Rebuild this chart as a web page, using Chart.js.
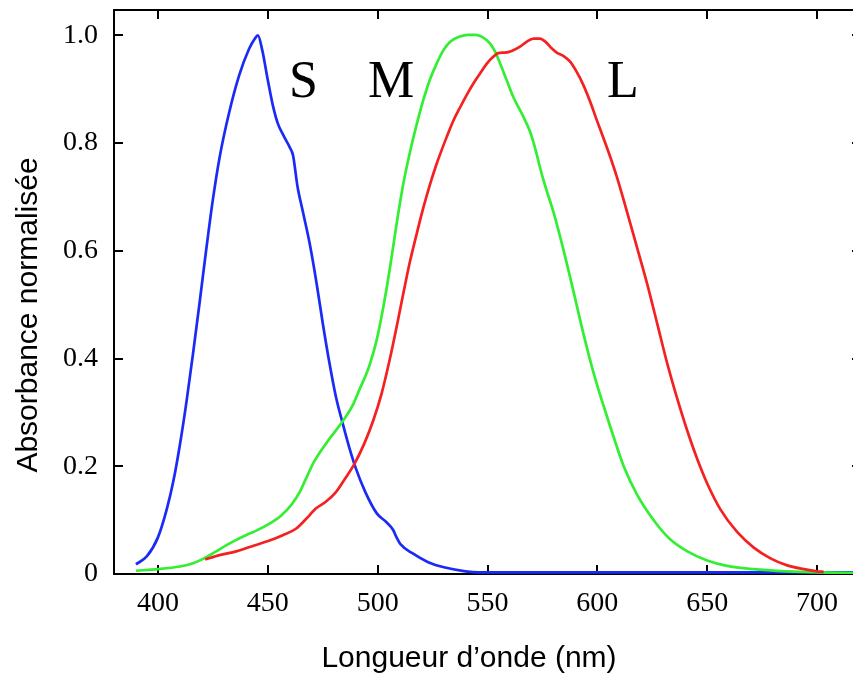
<!DOCTYPE html>
<html>
<head>
<meta charset="utf-8">
<script src="https://cdn.jsdelivr.net/npm/chart.js@4.4.1/dist/chart.umd.min.js"></script>
<style>
html,body{margin:0;padding:0;overflow:hidden;background:#ffffff;}
canvas{display:block;}
</style>
</head>
<body>
<canvas id="c" width="862" height="674"></canvas>
<script>
// ---- Data ----
const sWavelengths = [390,395,400,404,407,410,413,416,419,422,425,428,432.5,437,441.5,444,445.5,447.5,450,452.3,454.5,457,460,461.5,463.5,466,469,472,475,478,481,484,487,490,494.4,499.7,503.8,507,508.5,510.5,515.6,523,530.7,540,546,600,650,720];
const sAbsorbance  = [0.018,0.033,0.068,0.12,0.172,0.24,0.32,0.41,0.505,0.603,0.695,0.772,0.858,0.926,0.975,0.993,1.0,0.972,0.917,0.870,0.837,0.815,0.792,0.777,0.72,0.672,0.615,0.545,0.466,0.393,0.329,0.281,0.236,0.197,0.152,0.112,0.097,0.082,0.069,0.055,0.039,0.022,0.012,0.005,0.003,0.003,0.003,0.003];

const mWavelengths = [390,400,410,416,421,426.5,431,435,440,445,451,456,461,464.5,467.5,471,477,484,488.5,492,494.5,496.5,499.6,502.6,505.6,508.7,511.7,514.7,517.8,520.8,523.8,526.9,529.9,533,537.5,541,544.5,547.5,551.1,553.4,555.7,558.7,561.7,566.3,569.3,570.8,572.3,573.8,576,580.3,584.8,589.4,593.9,598.5,603,607.6,612,618,626,633,641,650,659,671,686,701,720];
const mAbsorbance  = [0.006,0.009,0.014,0.02,0.029,0.042,0.053,0.062,0.072,0.081,0.094,0.108,0.13,0.152,0.178,0.208,0.245,0.283,0.312,0.345,0.368,0.39,0.435,0.496,0.568,0.652,0.725,0.783,0.835,0.88,0.918,0.948,0.972,0.988,0.998,1.001,1.001,0.997,0.985,0.970,0.948,0.917,0.886,0.849,0.822,0.803,0.781,0.756,0.724,0.668,0.598,0.520,0.442,0.37,0.31,0.252,0.2,0.148,0.098,0.065,0.042,0.025,0.015,0.009,0.005,0.003,0.002];

const lWavelengths = [421.5,428,435.6,443.2,450.8,456.8,462.8,467.4,472,476.4,481,485,489.5,494,498,501.8,505.6,508.7,511.7,514.7,517.8,520.8,523.8,526.9,528.4,531.4,534.4,537.5,540.5,543.5,546.6,549.6,552.6,554.9,558,561,564.8,567.8,570.9,573.9,576.9,579.2,581.5,584.5,587.6,590.6,593.6,596.7,599.7,602.8,605.8,608.8,613.6,618.2,622.7,627.3,631.8,636.4,641,645.5,650,656,663.6,671.2,678.8,686.4,694,700,703];
const lAbsorbance  = [0.027,0.035,0.042,0.052,0.062,0.072,0.084,0.102,0.122,0.134,0.152,0.176,0.205,0.243,0.285,0.335,0.40,0.46,0.521,0.58,0.632,0.68,0.723,0.762,0.779,0.811,0.841,0.866,0.889,0.91,0.929,0.947,0.960,0.967,0.968,0.971,0.979,0.988,0.994,0.994,0.986,0.976,0.968,0.962,0.951,0.932,0.908,0.877,0.843,0.809,0.775,0.738,0.671,0.604,0.538,0.464,0.391,0.325,0.265,0.213,0.168,0.12,0.078,0.049,0.029,0.016,0.009,0.005,0.004];

const xTickValues = [400,450,500,550,600,650,700];
const yTickValues = [0,0.2,0.4,0.6,0.8,1.0];
const yTickLabels = ['0','0.2','0.4','0.6','0.8','1.0'];
const coneNames = ['S','M','L'];
const xAxisTitle = 'Longueur d\u2019onde (nm)';
const yAxisTitle = 'Absorbance normalis\u00e9e';

// ---- Build ----
const toPoints = (xs, ys) => xs.map((x, i) => ({x: x, y: ys[i]}));

const framePlugin = {
  id: 'frame',
  beforeDatasetsDraw(chart) {
    const {ctx, chartArea: a, scales: {x, y}} = chart;
    ctx.save();
    ctx.strokeStyle = '#000';
    ctx.lineWidth = 2;
    ctx.strokeRect(a.left, a.top, a.right - a.left, a.bottom - a.top);
    const tk = 9;
    ctx.beginPath();
    x.ticks.forEach(t => {
      const p = Math.round(x.getPixelForValue(t.value));
      ctx.moveTo(p, a.bottom); ctx.lineTo(p, a.bottom - tk);
      ctx.moveTo(p, a.top); ctx.lineTo(p, a.top + tk);
    });
    y.ticks.forEach(t => {
      const p = Math.round(y.getPixelForValue(t.value));
      ctx.moveTo(a.left, p); ctx.lineTo(a.left + tk, p);
      ctx.moveTo(a.right, p); ctx.lineTo(a.right - tk, p);
    });
    ctx.stroke();
    ctx.restore();
  },
  afterDraw(chart) {
    const {ctx, scales: {x, y}} = chart;
    ctx.save();
    ctx.fillStyle = '#000';
    ctx.font = '30px "Liberation Sans", Arial, sans-serif';
    ctx.textAlign = 'center';
    ctx.textBaseline = 'alphabetic';
    ctx.fillText(xAxisTitle, 469, 667);
    ctx.save();
    ctx.translate(37, 315);
    ctx.rotate(-Math.PI / 2);
    ctx.fillText(yAxisTitle, 0, 0);
    ctx.restore();
    // cone labels placed in data coordinates
    const labelAt = [[459.7, 0.8855], [495.6, 0.8855], [604.4, 0.8855]];
    ctx.font = '52px "Liberation Serif", "Times New Roman", serif';
    ctx.textAlign = 'left';
    coneNames.forEach((n, i) => {
      ctx.fillText(n, x.getPixelForValue(labelAt[i][0]), y.getPixelForValue(labelAt[i][1]));
    });
    ctx.restore();
  }
};

const lineStyle = {borderWidth: 2.7, pointRadius: 0, fill: false, cubicInterpolationMode: 'monotone'};
const noPad = s => { s.paddingTop = 0; s.paddingBottom = 0; s.paddingLeft = 0; s.paddingRight = 0; };

new Chart(document.getElementById('c'), {
  type: 'line',
  data: {
    datasets: [
      Object.assign({label: 'L', data: toPoints(lWavelengths, lAbsorbance), borderColor: '#f52020'}, lineStyle),
      Object.assign({label: 'M', data: toPoints(mWavelengths, mAbsorbance), borderColor: '#33ee33'}, lineStyle),
      Object.assign({label: 'S', data: toPoints(sWavelengths, sAbsorbance), borderColor: '#1b2bf7'}, lineStyle)
    ]
  },
  options: {
    responsive: false,
    animation: false,
    devicePixelRatio: 1,
    layout: {padding: {top: 10, right: 1, left: 0, bottom: 0}},
    plugins: {legend: {display: false}, tooltip: {enabled: false}},
    scales: {
      x: {
        type: 'linear', min: 380, max: 720,
        afterBuildTicks: s => { s.ticks = xTickValues.map(v => ({value: v})); },
        afterFit: s => { s.height = 100; noPad(s); },
        grid: {display: false, drawTicks: false},
        border: {display: false},
        ticks: {
          autoSkip: false, maxRotation: 0, padding: 13, color: '#000',
          font: {family: '"Liberation Serif", "Times New Roman", serif', size: 28},
          callback: v => String(v)
        }
      },
      y: {
        type: 'linear', min: 0, max: 1.047,
        afterBuildTicks: s => { s.ticks = yTickValues.map(v => ({value: v})); },
        afterFit: s => { s.width = 114; noPad(s); },
        grid: {display: false, drawTicks: false},
        border: {display: false},
        ticks: {
          autoSkip: false, padding: 16, color: '#000',
          font: {family: '"Liberation Serif", "Times New Roman", serif', size: 28},
          callback: (v, i) => yTickLabels[i]
        }
      }
    }
  },
  plugins: [framePlugin]
});
</script>
</body>
</html>
